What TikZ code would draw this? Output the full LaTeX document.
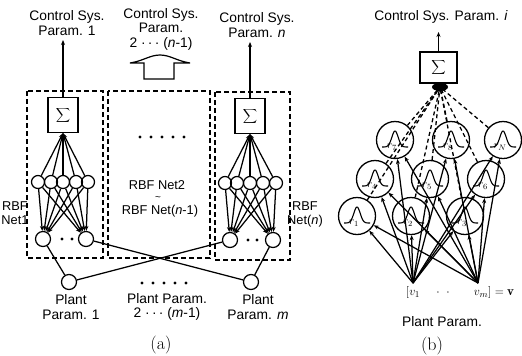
\documentclass[tikz,border=0pt]{standalone}
\usepackage{fontspec}
\newfontfamily\lab{Liberation Sans}
\usetikzlibrary{arrows.meta}
\newcommand{\sumglyph}{$\displaystyle\sum$}
\begin{document}
\begin{tikzpicture}[x=1bp,y=-1bp,line width=1.25bp,
  txt/.style={font=\lab\fontsize{13.8bp}{14.5bp}\selectfont, align=center, inner sep=0},
  rbftxt/.style={font=\lab\fontsize{12.8bp}{14bp}\selectfont, align=center, inner sep=0},
  rbfline/.style={font=\lab\fontsize{12.8bp}{14bp}\selectfont, inner sep=0},
  capt/.style={font=\fontsize{18bp}{18bp}\selectfont, inner sep=0},
  netbox/.style={draw, dash pattern=on 5bp off 3bp, line width=1.3bp},
  sumbox/.style={draw, line width=1.4bp, minimum width=30bp, minimum height=35bp, inner sep=0,
                 font=\fontsize{17bp}{17bp}\selectfont},
  hid/.style={draw, circle, minimum size=13bp, inner sep=0},
  inp/.style={draw, circle, minimum size=15bp, inner sep=0},
  gauss/.style={draw, circle, minimum size=37bp, inner sep=0},
  arr/.style={-{Stealth[length=5bp,width=4bp]}},
  dline/.style={dash pattern=on 4bp off 3bp, line width=1.3bp},
]
\fill[white] (0,0) rectangle (522,355);
\useasboundingbox (0,0) rectangle (522,355);

% ---------------- (a) ----------------
% dashed frames of the RBF nets
\draw[netbox] (27,91) rectangle (103,258);
\draw[netbox] (108,91) rectangle (210,258);
\draw[netbox] (215,92) rectangle (290,260);

% summation units and outputs
\node[sumbox] (sumL) at (63,115) {\sumglyph};
\node[sumbox] (sumR) at (250,116) {\sumglyph};
\coordinate (outL) at (63,40);
\coordinate (outR) at (250,42);
\draw[arr] (sumL) -- (outL);
\draw[arr] (sumR) -- (outR);

\node[txt] (labL) at (67,23) {Control Sys.\\Param. 1};
\node[txt] (labM) at (161,29) {Control Sys.\\Param.\\2 ·\,·\,· (\textit{n}-1)};
\node[txt] (labR) at (257,25) {Control Sys.\\Param. \textit{n}};

% hollow arrow for the middle outputs
\draw[line width=1.2bp] (130,63) .. controls (143,61) and (150,55) .. (160,55)
  .. controls (170,55) and (177,61) .. (190,63) -- (174,63) -- (174,79)
  -- (144,79) -- (144,63) -- cycle;

% net 1
\foreach \x [count=\k] in {38,51,63,76,88} \node[hid] (hL\k) at (\x,182) {};
\node[inp] (iL1) at (43,239) {};
\node[inp] (iL2) at (86,239) {};
\foreach \k in {1,...,5} {
  \draw[arr] (hL\k) -- (sumL.south);
  \draw[arr] (hL\k) -- (iL1);
  \draw[arr] (hL\k) -- (iL2);
}
\foreach \x in {62,72} \fill (\x,239) circle (1.6);

% net n
\foreach \x [count=\k] in {225,237,250,263,276} \node[hid] (hR\k) at (\x,183) {};
\node[inp] (iR1) at (230,240) {};
\node[inp] (iR2) at (273,240) {};
\foreach \k in {1,...,5} {
  \draw[arr] (hR\k) -- (sumR.south);
  \draw[arr] (hR\k) -- (iR1);
  \draw[arr] (hR\k) -- (iR2);
}
\foreach \x in {248,257} \fill (\x,240) circle (1.6);

% plant parameters
\node[inp] (pL) at (69,282) {};
\node[inp] (pR) at (251,282) {};
\draw (pL) -- (iL1);
\draw (pL) -- (iR1);
\draw (iL2) -- (pR);
\draw (pR) -- (iR2);

\node[rbftxt] (netA) at (15,213) {RBF\\Net1};
\node[rbftxt] (netN) at (305,214) {RBF\\Net(\textit{n})};
\node[rbfline] (netTwo) at (157,185) {RBF Net2};
\node[rbfline, font=\lab\fontsize{10bp}{10bp}\selectfont] (netTil) at (158,198.5) {\textasciitilde};
\node[rbfline] (netLast) at (160,211) {RBF Net(\textit{n}-1)};
\foreach \x in {140,151,162,173,184} \fill (\x,137) circle (1.6);
\foreach \x in {142,153,164,175,186} \fill (\x,283) circle (1.6);

\node[txt] (plL) at (71,307) {Plant\\Param. 1};
\node[txt] (plM) at (167,307) {Plant Param.\\2 ·\,·\,· (\textit{m}-1)};
\node[txt] (plR) at (258,307) {Plant\\Param. \textit{m}};
\node[capt] (capA) at (161,345) {(a)};

% ---------------- (b) ----------------
\node[sumbox, minimum width=37bp, minimum height=31bp, font=\fontsize{15bp}{15bp}\selectfont]
  (sumB) at (438.5,67.5) {\sumglyph};
\coordinate (outB) at (438.5,32);
\draw[arr] (sumB) -- (outB);
\node[txt] (labB) at (441,17) {Control Sys. Param. \textit{i}};

\foreach \n/\x/\y in {T1/395/140, T2/451/140, T3/503/140,
                      M1/375/179, M2/430/179, M3/486/179,
                      B1/357/216, B2/411/216, B3/465/216}
  \node[gauss, line width=1.3bp] (\n) at (\x,\y) {};

% receptive field curves and their labels
\foreach \n/\s in {T1/7, T2/8, T3/N, M1/4, M2/5, M3/6, B1/1, B2/2, B3/3} {
  \draw[line width=1.1bp, shift={(\n.center)}]
    plot[domain=-13:13, samples=41, smooth] (\x,{7-16*exp(-((\x/4.5)*(\x/4.5)))});
  \node[inner sep=0, font=\fontsize{11bp}{11bp}\selectfont] (\n-r) at ([shift={(-3,7)}]\n.center) {$r_{\s}$};
}

% inputs
\coordinate (v1) at (413,283);
\coordinate (vm) at (478,283);
\foreach \n in {B1,B2,B3,M1,M2,M3,T1,T2,T3} {
  \draw[arr] (v1) -- (\n);
  \draw[arr] (vm) -- (\n);
}

% weighted links into the sum
\coordinate (blob) at (440,87);
\foreach \n in {B1,B2,B3,M1,M2,M3,T1,T2,T3}
  \draw[dline] (\n) -- (blob);
\fill (blob) ellipse [x radius=8bp, y radius=4bp];

\node[inner sep=0, font=\fontsize{13bp}{13bp}\selectfont] (vlabA) at (413,293) {$[v_1$};
\node[inner sep=0, font=\fontsize{13bp}{13bp}\selectfont] (vlabB) at (443,293) {$\cdot\;\;\cdot$};
\node[inner sep=0, font=\fontsize{13bp}{13bp}\selectfont] (vlabC) at (494,293) {$v_m] = \mathbf{v}$};
\node[txt] (plB) at (442,322) {Plant Param.};
\node[capt] (capB) at (432,346) {(b)};
\end{tikzpicture}
\end{document}
